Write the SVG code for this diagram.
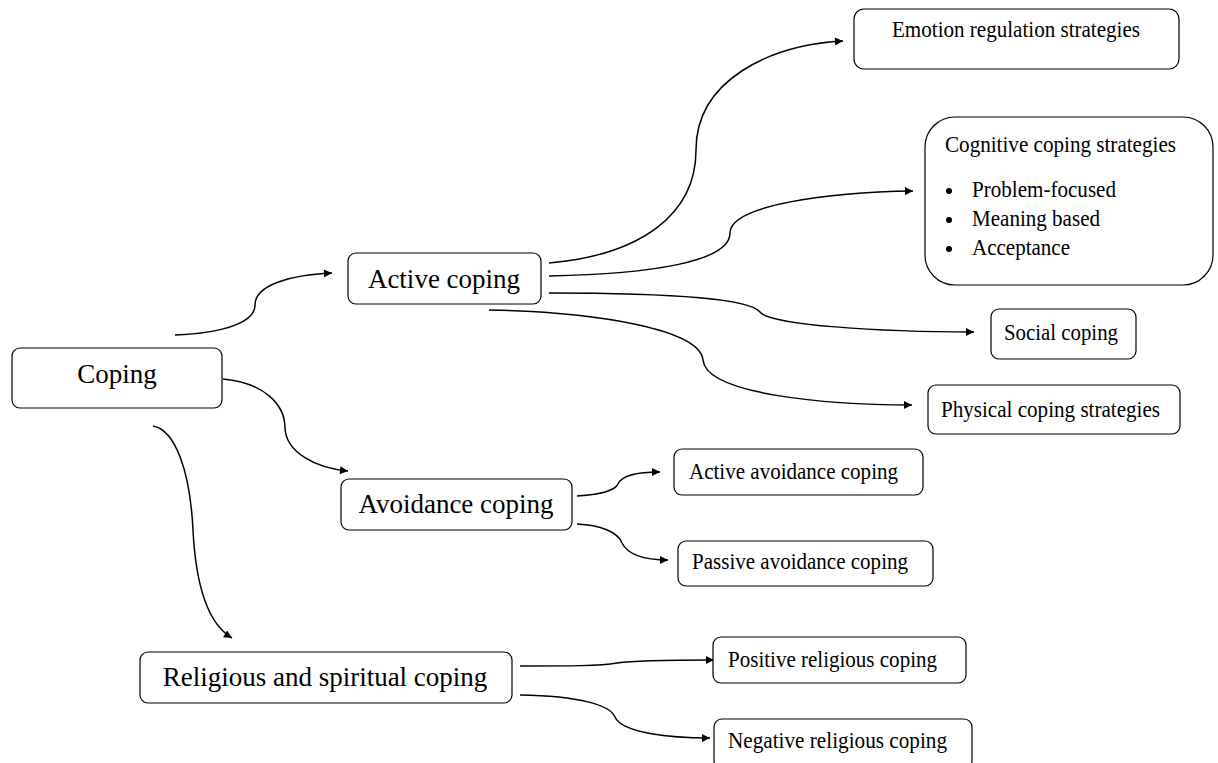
<svg xmlns="http://www.w3.org/2000/svg" width="1218" height="763" viewBox="0 0 1218 763">
<style>
.box{fill:#fff;stroke:#000;stroke-width:1.2}
.big{font-family:"Liberation Serif","Times New Roman",serif;font-size:27px;fill:#000}
.sm{font-family:"Liberation Serif","Times New Roman",serif;font-size:24px;fill:#000}
.c{fill:none;stroke:#000;stroke-width:1.5;marker-end:url(#ah)}
</style>
<defs>
<marker id="ah" viewBox="0 0 10 10" refX="10" refY="5" markerWidth="10" markerHeight="8" markerUnits="userSpaceOnUse" orient="auto">
<path d="M0,0 L10,5 L0,10 z" fill="#000"/>
</marker>
</defs>
<rect width="1218" height="763" fill="#fff"/>
<g id="connectors">
<path class="c" d="M175,335 C225,333 255,322 255,305 C255,285 290,275 332,273"/>
<path class="c" d="M223,379 C265,383 285,405 285,428 C286,452 315,468 348,471"/>
<path class="c" d="M153,426 C175,430 190,470 193,530 C196,590 210,625 232,638"/>
<path class="c" d="M549,263 C640,255 696,215 696,150 C696,80 770,45 843,41"/>
<path class="c" d="M549,276 C650,274 730,262 730,233 C730,205 830,192 913,191"/>
<path class="c" d="M549,293 C680,293 750,300 760,312 C770,325 880,332 974,332"/>
<path class="c" d="M489,310 C600,312 700,330 703,360 C706,395 830,405 912,405"/>
<path class="c" d="M577,496 C605,494 615,490 618,484 C622,475 640,472 660,472"/>
<path class="c" d="M577,524 C600,525 618,532 622,543 C628,555 645,560 668,560"/>
<path class="c" d="M520,666 C570,666 600,666 617,663 C630,661 680,660 714,660"/>
<path class="c" d="M520,695 C580,696 610,705 615,717 C622,733 670,738 710,738"/>
</g>
<g id="coping">
<rect class="box" x="12" y="348" width="210" height="60" rx="8"/>
<text class="big" x="117" y="383" text-anchor="middle">Coping</text>
</g>
<g id="active">
<rect class="box" x="348" y="253" width="193" height="51" rx="8"/>
<text class="big" x="444" y="288" text-anchor="middle">Active coping</text>
</g>
<g id="avoidance">
<rect class="box" x="341" y="479" width="231" height="51" rx="8"/>
<text class="big" x="456" y="513" text-anchor="middle">Avoidance coping</text>
</g>
<g id="religious">
<rect class="box" x="140" y="652" width="372" height="51" rx="8"/>
<text class="big" x="325" y="686" text-anchor="middle">Religious and spiritual coping</text>
</g>
<g id="emotion">
<rect class="box" x="854" y="9" width="325" height="60" rx="10"/>
<text class="sm" x="892" y="37" textLength="248" lengthAdjust="spacingAndGlyphs">Emotion regulation strategies</text>
</g>
<g id="cognitive">
<rect class="box" x="925" y="117" width="288" height="168" rx="30"/>
<text class="sm" x="945" y="152" textLength="231" lengthAdjust="spacingAndGlyphs">Cognitive coping strategies</text>
<circle cx="949" cy="191" r="3"/>
<text class="sm" x="972" y="197" textLength="144" lengthAdjust="spacingAndGlyphs">Problem-focused</text>
<circle cx="949" cy="220" r="3"/>
<text class="sm" x="972" y="226" textLength="128" lengthAdjust="spacingAndGlyphs">Meaning based</text>
<circle cx="949" cy="249" r="3"/>
<text class="sm" x="972" y="255" textLength="98" lengthAdjust="spacingAndGlyphs">Acceptance</text>
</g>
<g id="social">
<rect class="box" x="991" y="309" width="145" height="50" rx="8"/>
<text class="sm" x="1004" y="340" textLength="114" lengthAdjust="spacingAndGlyphs">Social coping</text>
</g>
<g id="physical">
<rect class="box" x="928" y="385" width="252" height="49" rx="8"/>
<text class="sm" x="941" y="417" textLength="219" lengthAdjust="spacingAndGlyphs">Physical coping strategies</text>
</g>
<g id="active-avoidance">
<rect class="box" x="674" y="449" width="249" height="46" rx="8"/>
<text class="sm" x="689" y="479" textLength="209" lengthAdjust="spacingAndGlyphs">Active avoidance coping</text>
</g>
<g id="passive-avoidance">
<rect class="box" x="678" y="541" width="255" height="45" rx="8"/>
<text class="sm" x="692" y="569" textLength="216" lengthAdjust="spacingAndGlyphs">Passive avoidance coping</text>
</g>
<g id="positive-religious">
<rect class="box" x="713" y="637" width="253" height="46" rx="8"/>
<text class="sm" x="728" y="667" textLength="209" lengthAdjust="spacingAndGlyphs">Positive religious coping</text>
</g>
<g id="negative-religious">
<rect class="box" x="714" y="719" width="258" height="50" rx="8"/>
<text class="sm" x="728" y="748" textLength="219" lengthAdjust="spacingAndGlyphs">Negative religious coping</text>
</g>
</svg>
